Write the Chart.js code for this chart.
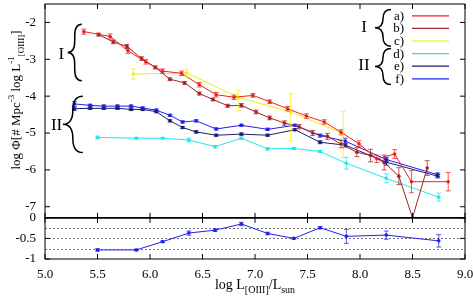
<!DOCTYPE html>
<html>
<head>
<meta charset="utf-8">
<script src="https://cdn.jsdelivr.net/npm/chart.js@4.4.0/dist/chart.umd.min.js"></script>
<style>
  html, body { margin: 0; padding: 0; background: #fff; }
</style>
</head>
<body>
<canvas id="lfChart" width="473" height="299"></canvas>
<script>
// axis ticks
const xTicks = [5.0, 5.5, 6.0, 6.5, 7.0, 7.5, 8.0, 8.5, 9.0];
const yTicksMain = [-2, -3, -4, -5, -6, -7];
const yTicksLow = [0, -0.5, -1];
const lowGrid = [-0.25, -0.5, -0.75];

// a) sample I
const aX = [5.37, 5.62, 5.79, 5.96, 6.12, 6.30, 6.47, 6.63, 6.80, 6.98, 7.14, 7.31, 7.49, 7.66, 7.82, 7.99, 8.16, 8.33, 8.49, 8.84];
const aY = [-2.25, -2.38, -2.77, -3.07, -3.32, -3.38, -3.69, -3.96, -4.03, -3.98, -4.15, -4.34, -4.54, -4.70, -4.98, -5.29, -5.70, -5.57, -6.32, -6.32];
const aErr = [0.07, 0.07, 0.07, 0.06, 0.06, 0.06, 0.06, 0.06, 0.06, 0.05, 0.05, 0.06, 0.06, 0.06, 0.07, 0.08, 0.10, 0.12, 0.30, 0.25];

// b)
const bX = [5.51, 5.65, 5.78, 5.92, 6.05, 6.19, 6.33, 6.47, 6.60, 6.74, 6.87, 7.01, 7.14, 7.28, 7.42, 7.55, 7.69, 7.82, 7.97, 8.10, 8.23, 8.37, 8.50, 8.64];
const bY = [-2.33, -2.53, -2.65, -2.98, -3.22, -3.54, -3.64, -3.93, -4.09, -4.26, -4.25, -4.43, -4.59, -4.73, -4.83, -5.00, -5.09, -5.30, -5.52, -5.61, -5.80, -6.17, -7.30, -5.95];
const bErr = [0.04, 0.05, 0.05, 0.05, 0.04, 0.04, 0.04, 0.04, 0.04, 0.04, 0.05, 0.05, 0.05, 0.06, 0.06, 0.07, 0.08, 0.10, 0.12, 0.17, 0.20, 0.23, 0, 0.20];

// c)
const cX = [5.84, 6.35, 6.84, 7.34, 7.84];
const cY = [-3.40, -3.37, -4.03, -4.43, -5.01];
const cErrLo = [0.14, 0.10, 0.37, 0.78, 0.65];
const cErrHi = [0.14, 0.10, 0.19, 0.49, 0.60];

// d) sample II
const dX = [5.50, 5.87, 6.12, 6.37, 6.62, 6.87, 7.12, 7.37, 7.62, 7.87, 8.25, 8.75];
const dY = [-5.12, -5.14, -5.14, -5.19, -5.37, -5.14, -5.43, -5.42, -5.50, -5.82, -6.23, -6.74];
const dErr = [0.04, 0.02, 0.02, 0.05, 0.03, 0.03, 0.03, 0.03, 0.03, 0.16, 0.12, 0.11];

// e) and f) share bins
const efX = [5.28, 5.43, 5.56, 5.69, 5.82, 5.93, 6.06, 6.19, 6.31, 6.44, 6.63, 6.87, 7.12, 7.38, 7.62, 7.86, 8.25, 8.74];
const eY = [-4.34, -4.33, -4.33, -4.33, -4.36, -4.36, -4.42, -4.67, -4.85, -4.97, -5.06, -5.03, -5.06, -4.91, -5.25, -5.33, -5.79, -6.17];
const eErr = [0.05, 0.03, 0.03, 0.03, 0.03, 0.03, 0.03, 0.03, 0.03, 0.03, 0.03, 0.03, 0.03, 0.03, 0.04, 0.05, 0.08, 0.05];
const fY = [-4.21, -4.25, -4.27, -4.27, -4.27, -4.32, -4.38, -4.52, -4.70, -4.67, -4.89, -4.79, -4.90, -4.79, -5.07, -5.22, -5.72, -6.13];
const fErr = [0.06, 0.03, 0.03, 0.03, 0.03, 0.03, 0.03, 0.03, 0.03, 0.03, 0.03, 0.03, 0.03, 0.03, 0.04, 0.08, 0.06, 0.05];

// lower panel
const rX = [5.50, 5.87, 6.12, 6.37, 6.62, 6.87, 7.12, 7.37, 7.62, 7.87, 8.25, 8.75];
const rY = [-0.78, -0.78, -0.58, -0.37, -0.30, -0.15, -0.38, -0.50, -0.24, -0.45, -0.42, -0.56];
const rErr = [0.03, 0.02, 0.02, 0.05, 0.03, 0.04, 0.03, 0.02, 0.03, 0.17, 0.10, 0.15];

const SERIF = '"Liberation Serif", "Times New Roman", serif';

function series(label, xs, ys, lo, hi, color, axis) {
  return {
    label: label,
    data: xs.map((x, i) => ({ x: x, y: ys[i] })),
    borderColor: color,
    backgroundColor: color,
    pointBackgroundColor: color,
    borderWidth: 1,
    pointRadius: 1.8,
    pointBorderWidth: 0,
    tension: 0,
    yAxisID: axis || 'y',
    errLo: lo,
    errHi: hi
  };
}

const datasets = [
  series('a)', aX, aY, aErr, aErr, '#ee2020'),
  series('b)', bX, bY, bErr, bErr, '#a82222'),
  series('c)', cX, cY, cErrLo, cErrHi, '#f0f000'),
  series('d)', dX, dY, dErr, dErr, '#22e6ee'),
  series('e)', efX, eY, eErr, eErr, '#1c1c6e'),
  series('f)', efX, fY, fErr, fErr, '#2020ee'),
  series('ratio', rX, rY, rErr, rErr, '#2020ee', 'yLow')
];

function line(ctx, x1, y1, x2, y2) {
  ctx.beginPath();
  ctx.moveTo(x1, y1);
  ctx.lineTo(x2, y2);
  ctx.stroke();
}

// left-facing curly brace
function brace(ctx, xCusp, xTip, yTop, yBot) {
  const xm = (xCusp + xTip) / 2;
  const yc = (yTop + yBot) / 2;
  const r = Math.min(Math.abs(xTip - xm) * 1.6, (yBot - yTop) / 4);
  ctx.beginPath();
  ctx.moveTo(xTip, yTop);
  ctx.quadraticCurveTo(xm, yTop, xm, yTop + r);
  ctx.lineTo(xm, yc - r);
  ctx.quadraticCurveTo(xm, yc, xCusp, yc);
  ctx.quadraticCurveTo(xm, yc, xm, yc + r);
  ctx.lineTo(xm, yBot - r);
  ctx.quadraticCurveTo(xm, yBot, xTip, yBot);
  ctx.stroke();
}

function richWidth(ctx, parts, size) {
  let w = 0;
  parts.forEach(p => {
    ctx.font = (p[1] ? size - 4 : size) + 'px ' + SERIF;
    w += ctx.measureText(p[0]).width;
  });
  return w;
}

function drawRich(ctx, parts, x, y, size) {
  let cx = x;
  parts.forEach(p => {
    ctx.font = (p[1] ? size - 4 : size) + 'px ' + SERIF;
    const dy = p[1] === 'sup' ? -6 : p[1] === 'sub' ? 4 : 0;
    ctx.fillText(p[0], cx, y + dy);
    cx += ctx.measureText(p[0]).width;
  });
}

const errorBars = {
  id: 'errorBars',
  afterDatasetsDraw(chart) {
    const ctx = chart.ctx;
    const xs = chart.scales.x;
    chart.data.datasets.forEach(ds => {
      const ys = chart.scales[ds.yAxisID];
      ctx.save();
      ctx.strokeStyle = ds.borderColor;
      ctx.globalAlpha = 0.75;
      ctx.lineWidth = 1;
      ds.data.forEach((p, j) => {
        const lo = ds.errLo[j], hi = ds.errHi[j];
        if (!lo && !hi) return;
        const px = xs.getPixelForValue(p.x);
        const y1 = ys.getPixelForValue(p.y - lo);
        const y2 = ys.getPixelForValue(p.y + hi);
        line(ctx, px, y1, px, y2);
        line(ctx, px - 2.5, y1, px + 2.5, y1);
        line(ctx, px - 2.5, y2, px + 2.5, y2);
      });
      ctx.restore();
    });
  }
};

const frame = {
  id: 'frame',
  beforeDatasetsDraw(chart) {
    const { ctx, chartArea: ca } = chart;
    const yl = chart.scales.yLow;
    ctx.save();
    ctx.strokeStyle = '#777';
    ctx.lineWidth = 1;
    ctx.setLineDash([2, 2]);
    lowGrid.forEach(v => {
      const py = Math.round(yl.getPixelForValue(v)) + 0.5;
      line(ctx, ca.left, py, ca.right, py);
    });
    ctx.restore();
  },
  afterDraw(chart) {
    const { ctx, chartArea: ca } = chart;
    const x = chart.scales.x, y = chart.scales.y, yl = chart.scales.yLow;
    const L = ca.left, R = ca.right, tl = 5;
    ctx.save();
    ctx.strokeStyle = '#000';
    ctx.lineWidth = 1;
    ctx.strokeRect(L, y.top, R - L, y.bottom - y.top);
    ctx.strokeRect(L, yl.top, R - L, yl.bottom - yl.top);
    ctx.lineWidth = 1.6;
    line(ctx, L, y.bottom, R, y.bottom);
    ctx.lineWidth = 1;
    xTicks.forEach(v => {
      const px = x.getPixelForValue(v);
      line(ctx, px, y.top, px, y.top + tl);
      line(ctx, px, y.bottom, px, y.bottom - tl);
      line(ctx, px, yl.top, px, yl.top + tl);
      line(ctx, px, yl.bottom, px, yl.bottom - tl);
    });
    yTicksMain.forEach(v => {
      const py = y.getPixelForValue(v);
      line(ctx, L, py, L + tl, py);
      line(ctx, R, py, R - tl, py);
    });
    yTicksLow.forEach(v => {
      const py = yl.getPixelForValue(v);
      line(ctx, L, py, L + tl, py);
      line(ctx, R, py, R - tl, py);
    });

    // braces next to the two groups of curves
    ctx.lineWidth = 1.5;
    brace(ctx, x.getPixelForValue(5.216), x.getPixelForValue(5.35), y.getPixelForValue(-2.05), y.getPixelForValue(-3.58));
    brace(ctx, x.getPixelForValue(5.17), x.getPixelForValue(5.36), y.getPixelForValue(-4.0), y.getPixelForValue(-5.53));
    ctx.fillStyle = '#000';
    ctx.font = '17px ' + SERIF;
    ctx.textAlign = 'center';
    ctx.textBaseline = 'middle';
    ctx.fillText('I', x.getPixelForValue(5.155), y.getPixelForValue(-2.86));
    ctx.fillText('II', x.getPixelForValue(5.11), y.getPixelForValue(-4.81));

    // legend
    const top = ca.top;
    const rowY = i => top + 11.8 + i * 12.6;
    ctx.font = '13px ' + SERIF;
    ctx.textAlign = 'right';
    chart.data.datasets.slice(0, 6).forEach((ds, i) => {
      ctx.fillStyle = '#000';
      ctx.fillText(ds.label, R - 61, rowY(i) + 0.5);
      ctx.strokeStyle = ds.borderColor;
      ctx.lineWidth = 1.2;
      line(ctx, R - 53, rowY(i), R - 16, rowY(i));
    });
    ctx.strokeStyle = '#000';
    ctx.lineWidth = 1.5;
    brace(ctx, R - 90, R - 74, top + 5.5, top + 42.2);
    brace(ctx, R - 90, R - 74, top + 44.5, top + 80.5);
    ctx.font = '17px ' + SERIF;
    ctx.textAlign = 'center';
    ctx.fillText('I', R - 101, top + 24);
    ctx.fillText('II', R - 101, top + 62);

    // axis titles
    ctx.textAlign = 'left';
    ctx.textBaseline = 'alphabetic';
    const xt = [['log L'], ['[OIII]', 'sub'], ['/L'], ['sun', 'sub']];
    drawRich(ctx, xt, (L + R) / 2 - richWidth(ctx, xt, 14) / 2, 289, 14);
    const yt = [['log Φ[# Mpc'], ['-3', 'sup'], [' log L'], ['-1', 'sup'], ['[OIII]', 'sub'], [']']];
    ctx.translate(19.5, 100);
    ctx.rotate(-Math.PI / 2);
    drawRich(ctx, yt, -richWidth(ctx, yt, 13) / 2, 0, 13);
    ctx.restore();
  }
};

const tickFont = { family: SERIF, size: 13 };
const noPad = s => { s.paddingTop = 0; s.paddingBottom = 0; s.paddingLeft = 0; s.paddingRight = 0; };

new Chart(document.getElementById('lfChart'), {
  type: 'line',
  data: { datasets: datasets },
  options: {
    responsive: false,
    animation: false,
    layout: { padding: { top: 1, right: 8, left: 0, bottom: 0 } },
    plugins: { legend: { display: false }, tooltip: { enabled: false } },
    scales: {
      x: {
        type: 'linear', min: 5, max: 9,
        afterBuildTicks: s => { s.ticks = xTicks.map(v => ({ value: v })); },
        afterFit: s => { s.height = 40; noPad(s); },
        grid: { display: false, drawTicks: false }, border: { display: false },
        ticks: { padding: 8, color: '#000', font: tickFont, maxRotation: 0, autoSkip: false,
                 callback: v => Number(v).toFixed(1) }
      },
      yLow: {
        type: 'linear', position: 'left', stack: 'panels', stackWeight: 1, min: -1, max: 0,
        afterBuildTicks: s => { s.ticks = yTicksLow.map(v => ({ value: v })); },
        afterFit: s => { s.width = 45; noPad(s); },
        grid: { display: false, drawTicks: false }, border: { display: false },
        ticks: { padding: 9, color: '#000', font: tickFont, autoSkip: false, callback: v => String(v) }
      },
      y: {
        type: 'linear', position: 'left', stack: 'panels', stackWeight: 5.19, min: -7.3, max: -1.5,
        afterBuildTicks: s => { s.ticks = yTicksMain.map(v => ({ value: v })); },
        afterFit: s => { s.width = 45; noPad(s); },
        grid: { display: false, drawTicks: false }, border: { display: false },
        ticks: { padding: 9, color: '#000', font: tickFont, autoSkip: false, callback: v => String(v) }
      }
    }
  },
  plugins: [errorBars, frame]
});
</script>
</body>
</html>
